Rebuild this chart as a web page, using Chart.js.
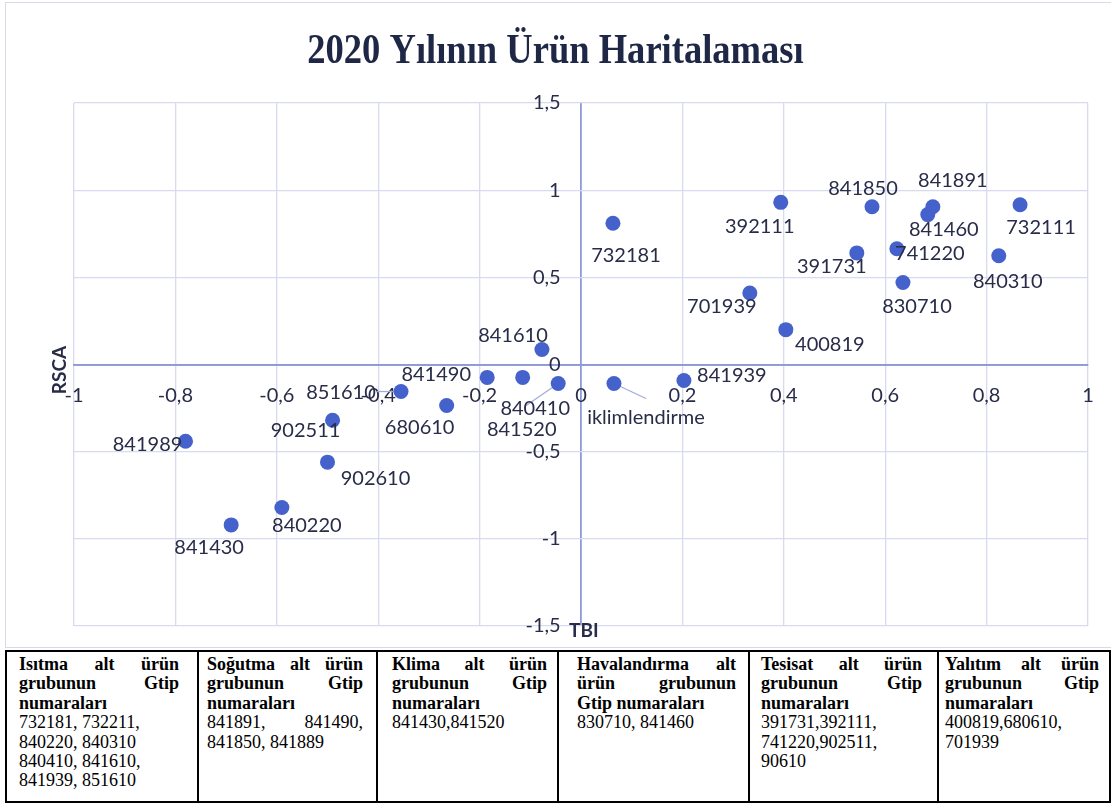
<!DOCTYPE html>
<html><head><meta charset="utf-8">
<script src="https://cdn.jsdelivr.net/npm/chart.js@4.4.1/dist/chart.umd.min.js"></script>
<style>
html,body{margin:0;padding:0;background:#fff;width:1111px;height:804px;overflow:hidden;}
#frame{position:absolute;left:5px;top:2px;width:1112px;height:646px;border:1.5px solid #D6D9E6;box-sizing:border-box;}
#wrap{position:absolute;left:0;top:0;width:1114px;height:660px;}
table{position:absolute;left:5px;top:650px;width:1104px;height:153px;border-collapse:collapse;font-family:"Liberation Serif","Times New Roman",serif;font-size:18px;line-height:19.4px;color:#000;table-layout:fixed;background:#fff;}
td{border:2px solid #000;vertical-align:top;padding:3px 14px 0 10px;}
.j{text-align:justify;text-align-last:justify;}
</style>
</head><body>
<div id="frame"></div>
<div id="wrap"><canvas id="c" width="1114" height="660"></canvas></div>
<table>
<colgroup><col style="width:192px"><col style="width:179px"><col style="width:181px"><col style="width:191px"><col style="width:189px"><col style="width:172px"></colgroup>
<tr>
<td style="padding-left:12px;padding-right:18px"><div class="j"><b>Isıtma alt ürün</b></div><div class="j"><b>grubunun Gtip</b></div><div><b>numaraları</b></div><div>732181, 732211,</div><div>840220, 840310</div><div>840410, 841610,</div><div>841939, 851610</div></td>
<td style="padding-left:8px;padding-right:13px"><div class="j"><b>Soğutma alt ürün</b></div><div class="j"><b>grubunun Gtip</b></div><div><b>numaraları</b></div><div class="j">841891, 841490,</div><div>841850, 841889</div></td>
<td style="padding-left:14px;padding-right:10px"><div class="j"><b>Klima alt ürün</b></div><div class="j"><b>grubunun Gtip</b></div><div><b>numaraları</b></div><div>841430,841520</div></td>
<td style="padding-left:18px;padding-right:12px"><div class="j"><b>Havalandırma alt</b></div><div class="j"><b>ürün grubunun</b></div><div><b>Gtip numaraları</b></div><div>830710, 841460</div></td>
<td style="padding-left:11px;padding-right:15px"><div class="j"><b>Tesisat alt ürün</b></div><div class="j"><b>grubunun Gtip</b></div><div><b>numaraları</b></div><div>391731,392111,</div><div>741220,902511,</div><div>90610</div></td>
<td style="padding-left:6px;padding-right:10px"><div class="j"><b>Yalıtım alt ürün</b></div><div class="j"><b>grubunun Gtip</b></div><div><b>numaraları</b></div><div>400819,680610,</div><div>701939</div></td>
</tr>
</table>
<script>
// ---- data ----
const pointLabels = ['841989','841430','840220','902610','902511','851610','680610','841490','841520','840410','841610','iklimlendirme','841939','732181','701939','400819','392111','391731','841850','741220','830710','841460','841891','840310','732111'];
const tbiValues  = [-0.78,-0.69,-0.59,-0.50,-0.49,-0.355,-0.265,-0.185,-0.115,-0.045,-0.077,0.065,0.203,0.063,0.333,0.404,0.394,0.544,0.574,0.623,0.635,0.684,0.694,0.824,0.866];
const rscaValues = [-0.44,-0.92,-0.82,-0.56,-0.32,-0.155,-0.235,-0.074,-0.074,-0.109,0.086,-0.109,-0.092,0.81,0.41,0.20,0.93,0.64,0.905,0.664,0.47,0.86,0.905,0.624,0.916];
const xTickLabels = ['-1','-0,8','-0,6','-0,4','-0,2','0','0,2','0,4','0,6','0,8','1'];
const yTickLabels = ['-1,5','-1','-0,5','0','0,5','1','1,5'];
const chartTitle = '2020 Yılının Ürün Haritalaması';
const xTitle = 'TBI';
const yTitle = 'RSCA';

// ---- label layout (pixel offsets of label centre from its point; optional leader end) ----
const labelLayout = [
 {dx:-38,dy:3},{dx:-22,dy:23},{dx:25,dy:18},{dx:48,dy:16},{dx:-27,dy:10},
 {dx:-60,dy:1,lead:[-24,0]},{dx:-27,dy:22},{dx:-51,dy:-3},{dx:-1,dy:52},{dx:-23,dy:25,lead:[-32,22]},
 {dx:-29,dy:-14},{dx:32,dy:34,lead:[32,15]},{dx:48,dy:-5},{dx:13,dy:32},{dx:-28,dy:14},
 {dx:44,dy:15},{dx:-21,dy:24},{dx:-25,dy:14},{dx:-9,dy:-18},{dx:33,dy:5},
 {dx:14,dy:24},{dx:16,dy:15},{dx:20,dy:-26},{dx:9,dy:26},{dx:21,dy:23}
];

const textColor = '#282C48';
const points = tbiValues.map((x,i)=>({x:x,y:rscaValues[i]}));

const decor = {
 id:'decor',
 beforeDatasetsDraw(chart){
  const ctx=chart.ctx, meta=chart.getDatasetMeta(0);
  ctx.save();
  ctx.strokeStyle='#A3ACD9'; ctx.lineWidth=1.3;
  meta.data.forEach((pt,i)=>{
   const L=labelLayout[i];
   if(L.lead){ctx.beginPath();ctx.moveTo(pt.x,pt.y);ctx.lineTo(pt.x+L.lead[0],pt.y+L.lead[1]);ctx.stroke();}
  });
  ctx.restore();
 },
 afterDatasetsDraw(chart){
  const ctx=chart.ctx, meta=chart.getDatasetMeta(0);
  ctx.save();
  ctx.font='20px Lato'; ctx.fillStyle=textColor; ctx.textAlign='center'; ctx.textBaseline='middle';
  meta.data.forEach((pt,i)=>{
   const L=labelLayout[i];
   ctx.fillText(pointLabels[i], pt.x+L.dx, pt.y+L.dy);
  });
  // title (condensed bold serif)
  ctx.save();
  ctx.font='bold 42px "Liberation Serif"'; ctx.fillStyle='#1F2747'; ctx.textBaseline='alphabetic';
  ctx.translate(555.5,63); ctx.scale(0.87,1);
  ctx.fillText(chartTitle, 0, 0);
  ctx.restore();
  // axis titles
  ctx.font='bold 19px Lato'; ctx.fillStyle=textColor;
  const xs=chart.scales.x, ys=chart.scales.y;
  ctx.textAlign='left';
  ctx.fillText(xTitle, xs.getPixelForValue(0)-12, ys.bottom+5);
  ctx.save(); ctx.translate(60,370); ctx.rotate(-Math.PI/2); ctx.textAlign='center';
  ctx.fillText(yTitle,0,0); ctx.restore();
  ctx.restore();
 }
};

const isZero = c => c.tick && Math.abs(c.tick.value)<1e-9;
const gridColor = c => isZero(c) ? '#8E99D8' : '#D8DBEF';
const gridWidth = c => isZero(c) ? 1.8 : 1.3;

new Chart(document.getElementById('c'), {
 type:'scatter',
 data:{datasets:[{data:points,backgroundColor:'#4561CB',borderWidth:0,pointRadius:7.5,pointHoverRadius:7.5}]},
 options:{
  responsive:false, animation:false,
  layout:{padding:{left:74,right:26,top:103,bottom:34}},
  plugins:{legend:{display:false},tooltip:{enabled:false},title:{display:false}},
  scales:{
   x:{type:'linear',position:{y:0},min:-1,max:1,
      afterFit(s){s.height=0;},
      ticks:{stepSize:0.2,autoSkip:false,maxRotation:0,callback:(v,i)=>xTickLabels[i],font:{family:'Lato',size:20},color:textColor,padding:19},
      grid:{color:gridColor,lineWidth:gridWidth,drawTicks:false},
      border:{color:'#8E99D8',width:1.8}},
   y:{type:'linear',position:{x:-0.04},min:-1.5,max:1.5,
      afterFit(s){s.width=0;},
      ticks:{stepSize:0.5,autoSkip:false,callback:(v,i)=>yTickLabels[i],font:{family:'Lato',size:20},color:textColor,padding:0},
      grid:{color:gridColor,lineWidth:gridWidth,drawTicks:false},
      border:{display:false}}
  }
 },
 plugins:[decor]
});
</script>
</body></html>
